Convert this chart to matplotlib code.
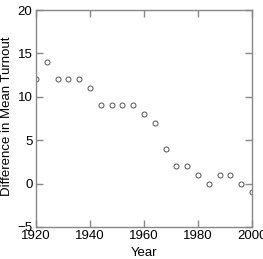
import matplotlib.pyplot as plt
import numpy as np

#=== donnees ===
annees = [1920, 1924, 1928, 1932, 1936, 1940, 1944, 1948, 1952, 1956,
          1960, 1964, 1968, 1972, 1976, 1980, 1984, 1988, 1992, 1996, 2000]
difference = [12, 14, 12, 12, 12, 11, 9, 9, 9, 9,
              8, 7, 4, 2, 2, 1, 0, 1, 1, 0, -1]

plt.rcParams['font.family'] = ['Liberation Sans', 'DejaVu Sans']

fig = plt.figure(figsize=(2.63, 2.59), dpi=100)
ax = fig.add_axes([0.137, 0.124, 0.821, 0.837])

ax.plot(annees, difference, 'o', ms=3.6, mfc='white', mec='#555555', mew=0.7)

ax.set_xlim(1920, 2000)
ax.set_ylim(-5, 20)
ax.set_xticks([1920, 1940, 1960, 1980, 2000])
ax.set_yticks([-5, 0, 5, 10, 15, 20])
ax.tick_params(direction='in', top=True, right=True, length=5, width=1,
               labelsize=9.5, color='#888888')
ax.tick_params(axis='x', pad=2.5)
ax.tick_params(axis='y', pad=2.5)
for s in ax.spines.values():
    s.set_linewidth(1)
    s.set_color('#888888')

ax.set_xlabel('Year', fontsize=9.5, labelpad=3)
ax.set_ylabel('Difference in Mean Turnout', fontsize=9.5)
ax.yaxis.set_label_coords(-0.105, 0.51)

fig.savefig('out.png', dpi=100)
